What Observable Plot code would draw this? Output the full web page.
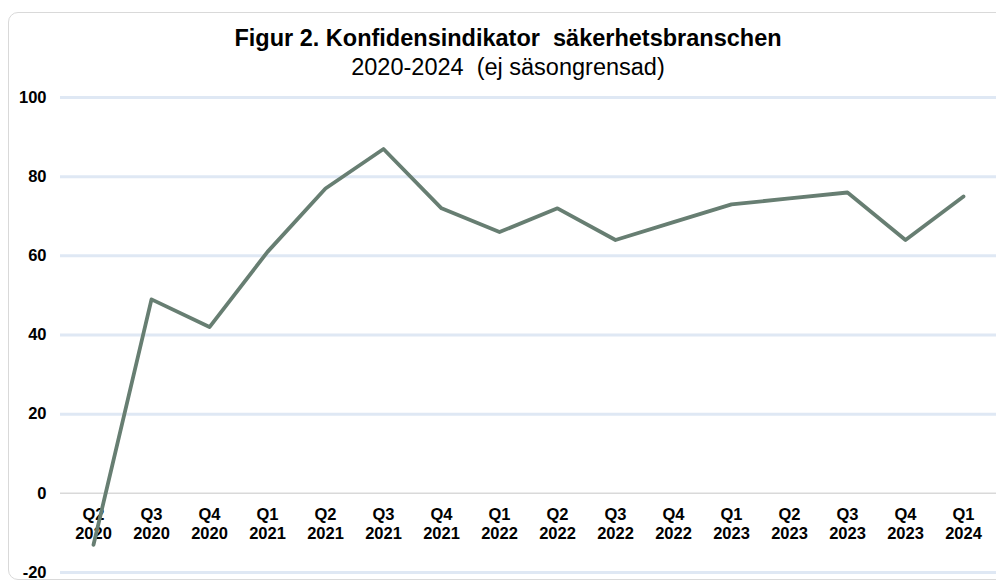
<!DOCTYPE html>
<html>
<head>
<meta charset="utf-8">
<script src="https://cdn.jsdelivr.net/npm/d3@7"></script>
<script src="https://cdn.jsdelivr.net/npm/@observablehq/plot@0.6"></script>
<style>
  body { margin: 0; background: #fff; font-family: "Liberation Sans", Arial, sans-serif; }
  #card { position: absolute; left: 8px; top: 12px; width: 1010px; height: 568px; border: 1px solid #d9d9d9; border-radius: 10px; box-sizing: border-box; }
  #title { position: absolute; left: 8px; width: 1000px; top: 24px; text-align: center; font-weight: bold; font-size: 23.5px; line-height: 28px; color: #000; }
  #subtitle { position: absolute; left: 8px; width: 1000px; top: 53px; text-align: center; font-size: 23.5px; line-height: 28px; color: #000; }
  #chart { position: absolute; left: 0; top: 85px; }
</style>
</head>
<body>
<div id="card"></div>
<div id="title">Figur 2. Konfidensindikator&nbsp; säkerhetsbranschen</div>
<div id="subtitle">2020-2024&nbsp; (ej säsongrensad)</div>
<div id="chart"></div>
<script>
const quarters = ["Q2\n2020","Q3\n2020","Q4\n2020","Q1\n2021","Q2\n2021","Q3\n2021","Q4\n2021","Q1\n2022","Q2\n2022","Q3\n2022","Q4\n2022","Q1\n2023","Q2\n2023","Q3\n2023","Q4\n2023","Q1\n2024"];
const values = [-13, 49, 42, 61, 77, 87, 72, 66, 72, 64, 68.5, 73, 74.5, 76, 64, 75];
const yTicks = [-20, 0, 20, 40, 60, 80, 100];

const data = quarters.map((q, i) => ({q, v: values[i]}));

const chart = Plot.plot({
  width: 996,
  height: 497,
  marginTop: 12,
  marginBottom: 10,
  marginLeft: 60,
  marginRight: 0,
  style: {fontFamily: "'Liberation Sans', Arial, sans-serif", background: "transparent", fontSize: "16px"},
  x: {type: "point", domain: quarters, padding: 0.5, axis: null},
  y: {domain: [-20, 100], axis: null},
  marks: [
    Plot.ruleY(yTicks.filter(d => d !== 0), {stroke: "#dfe8f4", strokeWidth: 3}),
    Plot.ruleY([0], {stroke: "#d9d9d9", strokeWidth: 1.5}),
    Plot.text(yTicks, {y: d => d, text: d => String(d), frameAnchor: "left", textAnchor: "end", dx: -14, fontWeight: "bold", fontSize: 16.5, fill: "#000"}),
    Plot.text(data, {x: "q", y: () => 0, text: "q", lineAnchor: "top", dy: 14, fontWeight: "bold", fontSize: 16.5, lineHeight: 1.12, fill: "#000"}),
    Plot.line(data, {x: "q", y: "v", stroke: "#677e72", strokeWidth: 3.8})
  ]
});
document.getElementById("chart").appendChild(chart);
</script>
</body>
</html>
